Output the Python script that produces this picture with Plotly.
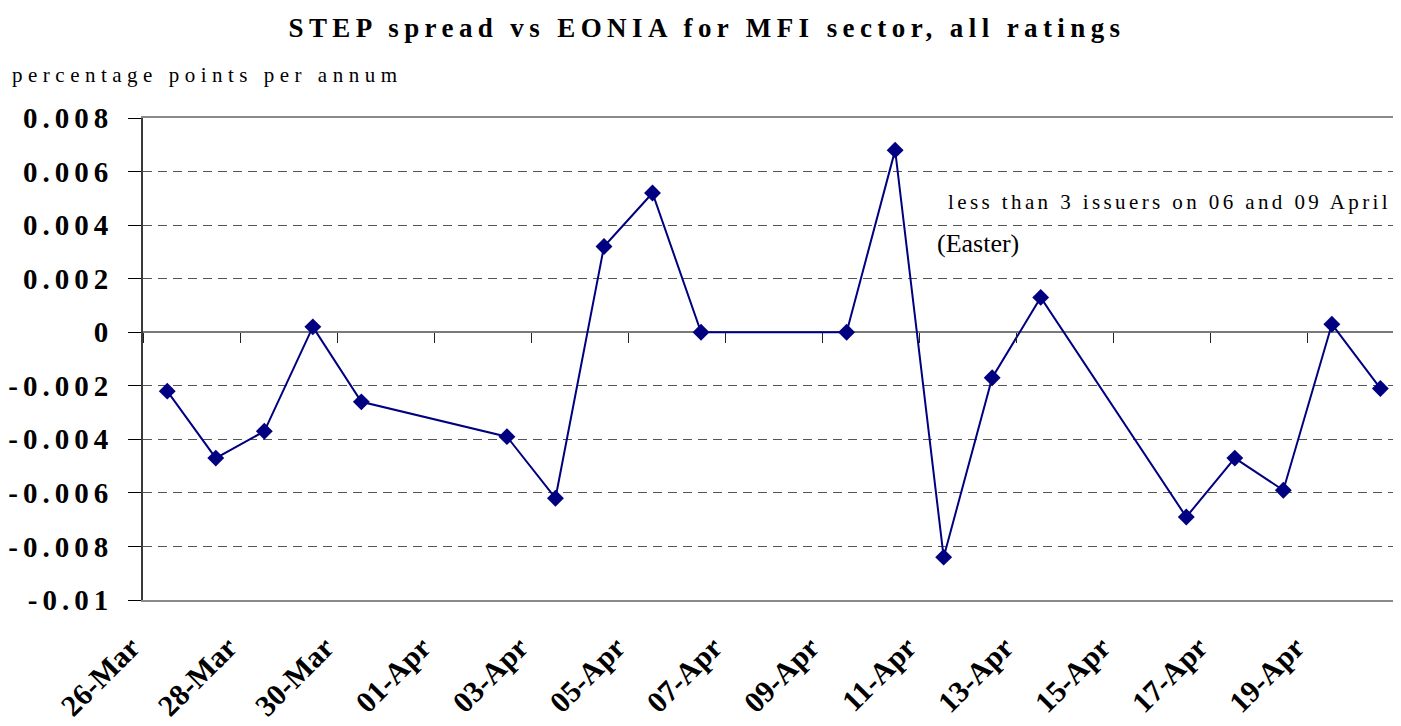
import plotly.graph_objects as go
import pandas as pd

# ---------------- data ----------------
title_text = "STEP spread vs EONIA for MFI sector, all ratings"
y_title = "percentage points per annum"
note_issuers = "less than 3 issuers on 06 and 09 April"
note_easter = "(Easter)"

dates = ["2007-03-26", "2007-03-27", "2007-03-28", "2007-03-29", "2007-03-30",
         "2007-04-02", "2007-04-03", "2007-04-04", "2007-04-05", "2007-04-06",
         "2007-04-09", "2007-04-10", "2007-04-11", "2007-04-12", "2007-04-13",
         "2007-04-16", "2007-04-17", "2007-04-18", "2007-04-19", "2007-04-20"]
spread = [-0.0022, -0.0047, -0.0037, 0.0002, -0.0026,
          -0.0039, -0.0062, 0.0032, 0.0052, 0.0,
          0.0, 0.0068, -0.0084, -0.0017, 0.0013,
          -0.0069, -0.0047, -0.0059, 0.0003, -0.0021]

x_tick_dates = ["2007-03-26", "2007-03-28", "2007-03-30", "2007-04-01", "2007-04-03",
                "2007-04-05", "2007-04-07", "2007-04-09", "2007-04-11", "2007-04-13",
                "2007-04-15", "2007-04-17", "2007-04-19"]
x_tick_labels = ["26-Mar", "28-Mar", "30-Mar", "01-Apr", "03-Apr", "05-Apr", "07-Apr",
                 "09-Apr", "11-Apr", "13-Apr", "15-Apr", "17-Apr", "19-Apr"]
axis_first_day = "2007-03-26"
visible_days = 25.76   # the last day slot runs past the right edge of the picture

y_tick_values = [0.008, 0.006, 0.004, 0.002, 0.0, -0.002, -0.004, -0.006, -0.008, -0.01]
y_tick_labels = ["0.008", "0.006", "0.004", "0.002", "0", "-0.002", "-0.004",
                 "-0.006", "-0.008", "-0.01"]
y_min, y_max = -0.01, 0.008

# ---------------- helpers ----------------
half_day = pd.Timedelta(hours=12)
fmt = "%Y-%m-%d %H:%M:%S"
x_start = pd.Timestamp(axis_first_day) - half_day
x_range = [x_start.strftime(fmt), (x_start + pd.Timedelta(days=visible_days)).strftime(fmt)]
x_tickvals = [(pd.Timestamp(d) - half_day).strftime(fmt) for d in x_tick_dates]


def spaced(text, px):
    return f'<span style="letter-spacing:{px}px">{text}</span>'


SERIF = "Liberation Serif, Times New Roman, serif"
NAVY = "#000080"

# the page body adds an 8px offset; the figure fills the remaining area
FIG_W, FIG_H = 1385, 718
PLOT_L, PLOT_T, PLOT_W, PLOT_H = 135, 110, 1250, 482
OFF = 8  # page offset, used to convert reference pixels to figure pixels

fig = go.Figure()
fig.add_trace(go.Scatter(
    x=dates, y=spread, mode="lines+markers",
    line=dict(color=NAVY, width=2),
    marker=dict(symbol="diamond", size=13, color=NAVY),
    showlegend=False, hoverinfo="x+y",
))
# helper trace for the tick marks drawn along the zero line
fig.add_trace(go.Scatter(x=[], y=[], xaxis="x2", yaxis="y",
                         showlegend=False, hoverinfo="skip"))

fig.update_layout(
    template="none",
    width=FIG_W, height=FIG_H,
    autosize=False,
    paper_bgcolor="white", plot_bgcolor="white",
    margin=dict(l=PLOT_L, r=FIG_W - PLOT_L - PLOT_W, t=PLOT_T,
                b=FIG_H - PLOT_T - PLOT_H, pad=0),
    font=dict(family=SERIF, color="black"),
    title=dict(text="<b>" + spaced(title_text, 5.4) + "</b>",
               x=(707 - OFF) / FIG_W, xref="container", xanchor="center",
               y=1 - (28 - OFF) / FIG_H, yref="container", yanchor="middle",
               font=dict(family=SERIF, size=27, color="black")),
    xaxis=dict(
        type="date", range=x_range, autorange=False,
        tickmode="array", tickvals=x_tickvals,
        ticktext=["<b>" + t + "</b>" for t in x_tick_labels],
        tickangle=-45, ticks="", showgrid=False, zeroline=False,
        showline=True, linecolor="#8a8a8a", linewidth=2, mirror=True,
        tickfont=dict(family=SERIF, size=30, color="black"),
        ticklabelstandoff=16, ticklabelshift=-12, automargin=False,
    ),
    xaxis2=dict(
        type="date", overlaying="x", matches="x", anchor="free",
        position=(0 - y_min) / (y_max - y_min),
        tickmode="array", tickvals=x_tickvals, ticks="outside",
        ticklen=10, tickwidth=1, tickcolor="#222222",
        showticklabels=False, showgrid=False, zeroline=False, showline=False,
        automargin=False,
    ),
    yaxis=dict(
        range=[y_min, y_max], autorange=False,
        tickmode="array", tickvals=y_tick_values,
        ticktext=["<b>" + spaced(t, 5) + "</b>" for t in y_tick_labels],
        ticks="outside", ticklen=13, tickwidth=1, tickcolor="black",
        showline=True, linecolor="#3a3a3a", linewidth=2,
        showgrid=True, gridcolor="#555555", gridwidth=1, griddash="9px,6px",
        zeroline=True, zerolinecolor="#7a7a7a", zerolinewidth=2,
        tickfont=dict(family=SERIF, size=29, color="black"),
        ticklabelstandoff=9, automargin=False,
    ),
    annotations=[
        dict(text=spaced(y_title, 5.5), xref="paper", yref="paper",
             x=0, y=1, xshift=-133, yshift=43, xanchor="left", yanchor="middle",
             showarrow=False, font=dict(family=SERIF, size=21, color="black")),
        dict(text=spaced(note_issuers, 3.4), xref="paper", yref="paper",
             x=(946 - OFF - PLOT_L) / PLOT_W, y=(600 - 202) / PLOT_H,
             xanchor="left", yanchor="middle",
             showarrow=False, font=dict(family=SERIF, size=21, color="black")),
        dict(text=note_easter, xref="paper", yref="paper",
             x=(935 - OFF - PLOT_L) / PLOT_W, y=(600 - 243) / PLOT_H,
             xanchor="left", yanchor="middle",
             showarrow=False, font=dict(family=SERIF, size=26, color="black")),
    ],
)

fig.write_html("out.html")
